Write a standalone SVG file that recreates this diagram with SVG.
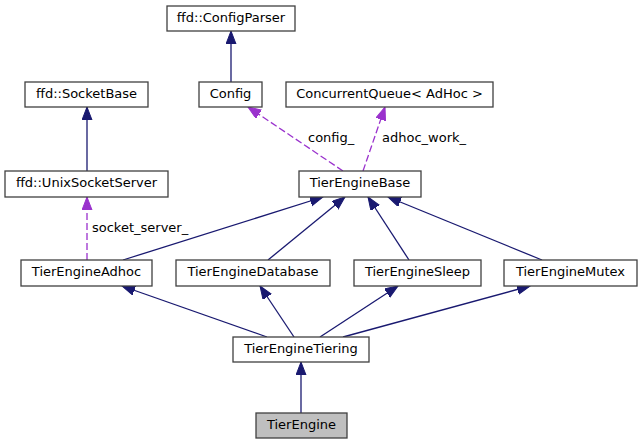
<svg xmlns="http://www.w3.org/2000/svg" width="642" height="444" viewBox="0 0 642 444">
<style>
.box{fill:#ffffff;stroke:#404040;stroke-width:1.3}
.cur{fill:#bfbfbf;stroke:#404040;stroke-width:1.3}
text{font-family:"DejaVu Sans",sans-serif;font-size:13px;fill:#000}
.n text{text-anchor:middle}
.inh{stroke:#191970;stroke-width:1.3;fill:none}
.use{stroke:#9a32cd;stroke-width:1.3;fill:none;stroke-dasharray:7,3}
</style>
<defs>
<marker id="ah" markerUnits="userSpaceOnUse" markerWidth="14" markerHeight="11" refX="13" refY="5" orient="auto">
<path d="M0,0 L13,5 L0,10 z" fill="#191970" stroke="#191970" stroke-width="1"/>
</marker>
<marker id="ap" markerUnits="userSpaceOnUse" markerWidth="14" markerHeight="11" refX="13" refY="5" orient="auto">
<path d="M0,0 L13,5 L0,10 z" fill="#9a32cd" stroke="#9a32cd" stroke-width="1"/>
</marker>
</defs>
<g id="edges">
<line class="inh" x1="231" y1="82" x2="231" y2="31" marker-end="url(#ah)"/>
<line class="inh" x1="87" y1="171" x2="87" y2="107" marker-end="url(#ah)"/>
<line class="use" x1="343" y1="171" x2="248" y2="107" marker-end="url(#ap)"/>
<line class="use" x1="363" y1="171" x2="385" y2="107" marker-end="url(#ap)"/>
<line class="use" x1="87" y1="260" x2="87" y2="197" marker-end="url(#ap)"/>
<line class="inh" x1="123" y1="260" x2="323" y2="197" marker-end="url(#ah)"/>
<line class="inh" x1="268" y1="260" x2="345" y2="197" marker-end="url(#ah)"/>
<line class="inh" x1="409" y1="260" x2="368" y2="197" marker-end="url(#ah)"/>
<line class="inh" x1="542" y1="260" x2="388" y2="197" marker-end="url(#ah)"/>
<line class="inh" x1="267" y1="337" x2="122" y2="286" marker-end="url(#ah)"/>
<line class="inh" x1="294" y1="337" x2="260" y2="286" marker-end="url(#ah)"/>
<line class="inh" x1="320" y1="337" x2="398" y2="286" marker-end="url(#ah)"/>
<line class="inh" x1="343" y1="337" x2="530" y2="286" marker-end="url(#ah)"/>
<line class="inh" x1="301" y1="413" x2="301" y2="362" marker-end="url(#ah)"/>
<text x="308" y="142">config_</text>
<text x="382" y="142">adhoc_work_</text>
<text x="92" y="231.5">socket_server_</text>
</g>
<g id="ConfigParser" class="n"><rect class="box" x="167" y="6" width="128" height="25"/><text x="231" y="21.5">ffd::ConfigParser</text></g>
<g id="SocketBase" class="n"><rect class="box" x="25" y="82" width="123" height="25"/><text x="86.5" y="97.5">ffd::SocketBase</text></g>
<g id="Config" class="n"><rect class="box" x="199" y="82" width="63" height="25"/><text x="230.5" y="97.5">Config</text></g>
<g id="ConcurrentQueue" class="n"><rect class="box" x="286" y="82" width="207" height="25"/><text x="389.5" y="97.5">ConcurrentQueue&lt; AdHoc &gt;</text></g>
<g id="UnixSocketServer" class="n"><rect class="box" x="5" y="171" width="163" height="26"/><text x="86.5" y="186.5">ffd::UnixSocketServer</text></g>
<g id="TierEngineBase" class="n"><rect class="box" x="299" y="171" width="122" height="26"/><text x="360" y="186.5">TierEngineBase</text></g>
<g id="TierEngineAdhoc" class="n"><rect class="box" x="21" y="260" width="131" height="26"/><text x="86.5" y="275.5">TierEngineAdhoc</text></g>
<g id="TierEngineDatabase" class="n"><rect class="box" x="176" y="260" width="154" height="26"/><text x="253" y="275.5">TierEngineDatabase</text></g>
<g id="TierEngineSleep" class="n"><rect class="box" x="354" y="260" width="127" height="26"/><text x="417.5" y="275.5">TierEngineSleep</text></g>
<g id="TierEngineMutex" class="n"><rect class="box" x="504" y="260" width="133" height="26"/><text x="570.5" y="275.5">TierEngineMutex</text></g>
<g id="TierEngineTiering" class="n"><rect class="box" x="233" y="337" width="136" height="25"/><text x="301" y="352.5">TierEngineTiering</text></g>
<g id="TierEngine" class="n"><rect class="cur" x="256" y="413" width="91" height="25"/><text x="301.5" y="428.5">TierEngine</text></g>
</svg>
